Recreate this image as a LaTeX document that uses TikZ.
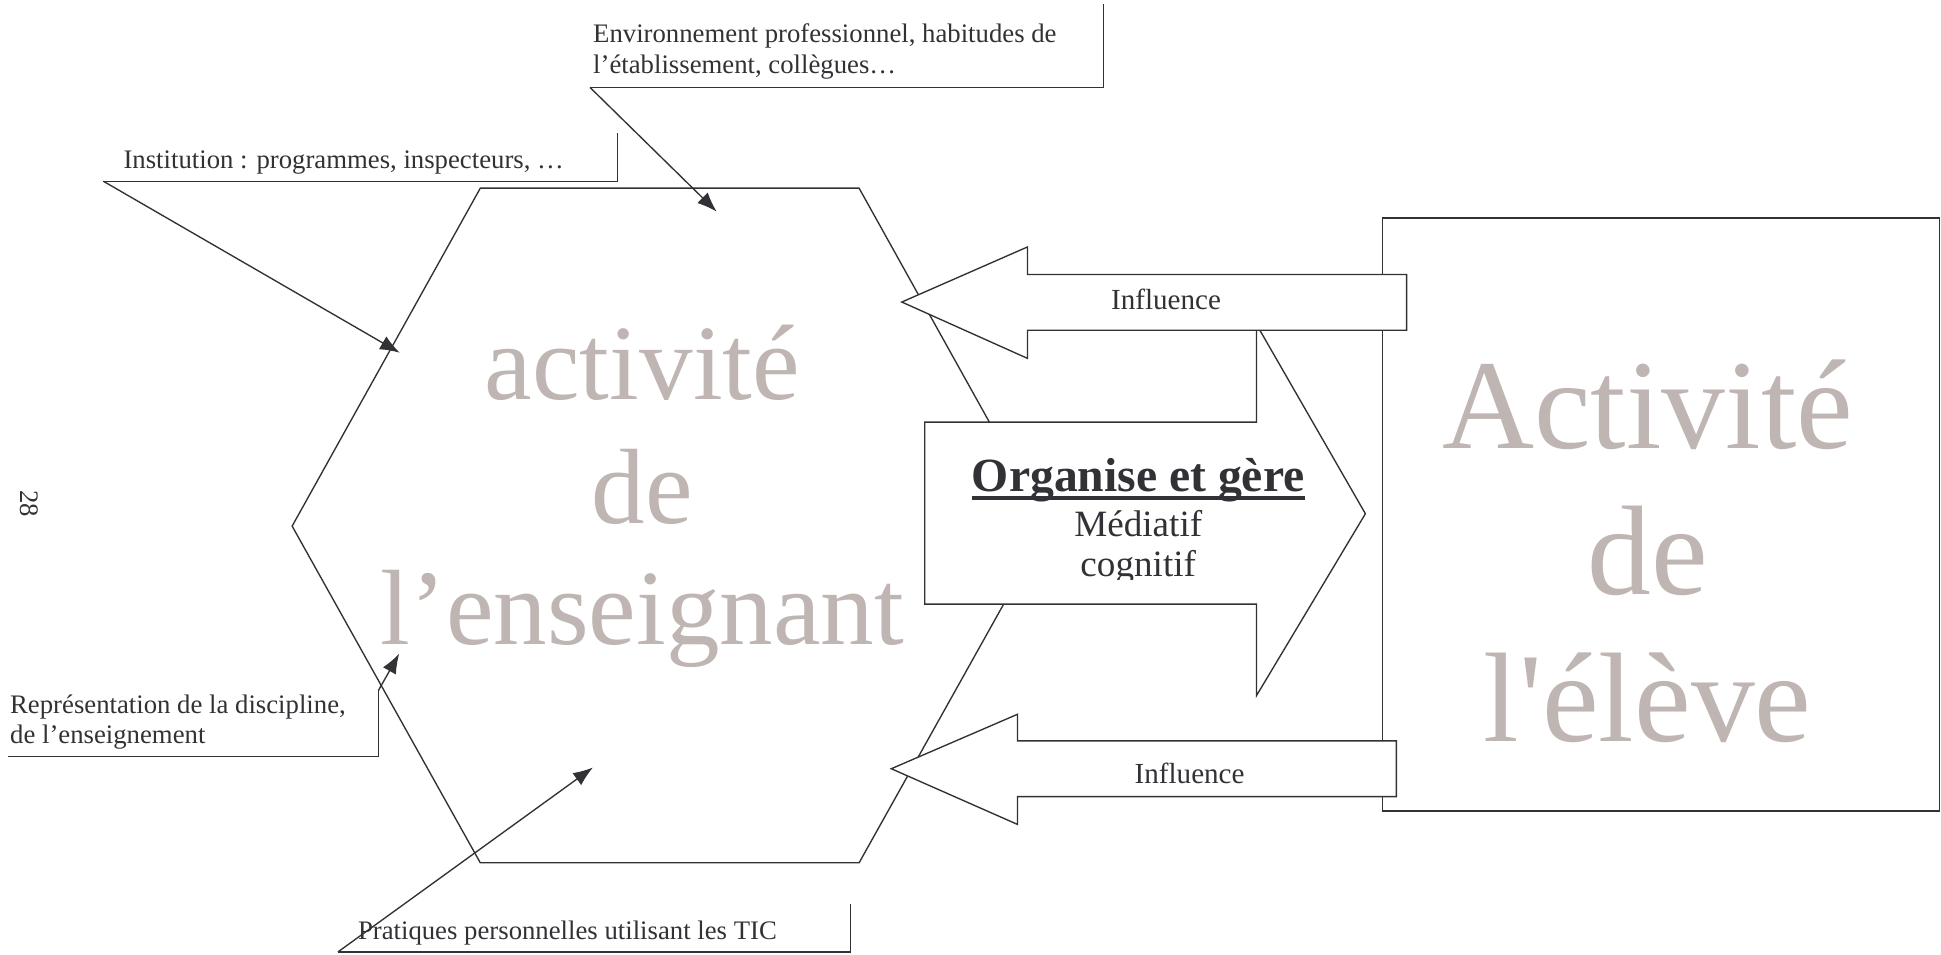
\documentclass[tikz,border=0pt]{standalone}
\usepackage{fontspec}
\setmainfont{Liberation Serif}
\newfontfamily\rawserif{Liberation Serif}
\usetikzlibrary{arrows.meta}
\definecolor{ink}{HTML}{323236}
\definecolor{pale}{HTML}{BFB6B3}
\tikzset{
  shapeline/.style={draw=ink, line width=1.1pt, line join=miter},
  whiteshape/.style={shapeline, fill=white},
  leader/.style={draw=ink, line width=1.1pt, -{Latex[length=16pt,width=12pt]}},
  calltxt/.style={inner sep=0pt, anchor=base west, text=ink, font=\fontsize{21.6}{24}\selectfont},
  infltxt/.style={inner sep=0pt, anchor=base, text=ink, font=\fontsize{23.5}{27}\selectfont},
  bigleft/.style={inner sep=0pt, anchor=base, text=pale, font=\fontsize{86.5}{98}\selectfont},
  bigright/.style={inner sep=0pt, anchor=base, text=pale, font=\rawserif\fontsize{103}{118}\selectfont},
}
\begin{document}
\begin{tikzpicture}[x=1pt,y=-1pt]
\useasboundingbox (0,0) rectangle (1568,771);

% page number
\node[rotate=-90, inner sep=0pt, text=ink, font=\fontsize{21.6}{24}\selectfont] (pg) at (24,407) {28};

% student box
\draw[shapeline] (1117,176) rectangle (1567,655);
\node[bigright] (el1) at (1331,362) {Activité};
\node[bigright] (el2) at (1331,480) {de};
\node[bigright] (el3) at (1331,599) {l'élève};

% hexagon
\draw[shapeline] (388,152) -- (694,152) -- (846,425) -- (694,697) -- (388,697) -- (236,425) -- cycle;
\node[bigleft] (en1) at (519,323) {activité};
\node[bigleft] (en2) at (519,423) {de};
\node[bigleft] (en3) at (519,521) {l’enseignant};

% big right arrow
\draw[whiteshape] (747,341) -- (1015,341) -- (1015,262) -- (1103,415) -- (1015,562) -- (1015,488) -- (747,488) -- cycle;
\node[inner sep=0pt, anchor=base, text=ink, font=\bfseries\fontsize{38.5}{44}\selectfont] (org) at (919.5,397) {Organise et gère};
\draw[ink, line width=3.2pt] ([yshift=-5.5pt]org.base west) -- ([yshift=-5.5pt]org.base east);
\node[inner sep=0pt, anchor=base, text=ink, font=\fontsize{30}{34}\selectfont] (med) at (919.5,433) {Médiatif};
\begin{scope}
\clip (747,341) rectangle (1015,468);
\node[inner sep=0pt, anchor=base, text=ink, font=\fontsize{30}{34}\selectfont] (cog) at (919.5,466) {cognitif};
\end{scope}

% influence arrows
\draw[whiteshape] (728.5,244) -- (830,199.5) -- (830,221.8) -- (1136.3,221.8) -- (1136.3,266.8) -- (830,266.8) -- (830,289.5) -- cycle;
\node[infltxt] (inf1) at (942,250) {Influence};
\draw[whiteshape] (720,621) -- (822,577) -- (822,598.5) -- (1128,598.5) -- (1128,643.5) -- (822,643.5) -- (822,666) -- cycle;
\node[infltxt] (inf2) at (961,633) {Influence};

% callout: Environnement
\node[calltxt] (env1) at (479,34.5) {Environnement professionnel, habitudes de};
\node[calltxt] (env2) at (479,59) {l’établissement, collègues…};
\coordinate (envA) at (476.6,70.6);
\coordinate (envB) at (891.3,70.6);
\coordinate (envC) at (891.3,3);
\coordinate (envT) at (579,171);
\draw[shapeline] (envA) -- (envB) -- (envC);
\draw[leader] (envA) -- (envT);

% callout: Institution
\node[calltxt] (ins) at (99.6,136) {Institution : programmes, inspecteurs, …};
\coordinate (insA) at (83.5,146.4);
\coordinate (insB) at (498.7,146.4);
\coordinate (insC) at (498.7,107.7);
\coordinate (insT) at (323,285);
\draw[shapeline] (insA) -- (insB) -- (insC);
\draw[leader] (insA) -- (insT);

% callout: Representation
\node[calltxt] (rep1) at (8,576.5) {Représentation de la discipline,};
\node[calltxt] (rep2) at (8,600.5) {de l’enseignement};
\coordinate (repA) at (6.7,611.2);
\coordinate (repB) at (305.6,611.2);
\coordinate (repC) at (305.6,558);
\coordinate (repT) at (322.5,528);
\draw[shapeline] (repA) -- (repB) -- (repC);
\draw[leader] (repC) -- (repT);

% callout: Pratiques
\node[calltxt] (pra) at (289,759) {Pratiques personnelles utilisant les TIC};
\coordinate (praA) at (273,769);
\coordinate (praB) at (687,769);
\coordinate (praC) at (687,730);
\coordinate (praT) at (479,620);
\draw[shapeline] (praA) -- (praB) -- (praC);
\draw[leader] (praA) -- (praT);
\end{tikzpicture}
\end{document}
